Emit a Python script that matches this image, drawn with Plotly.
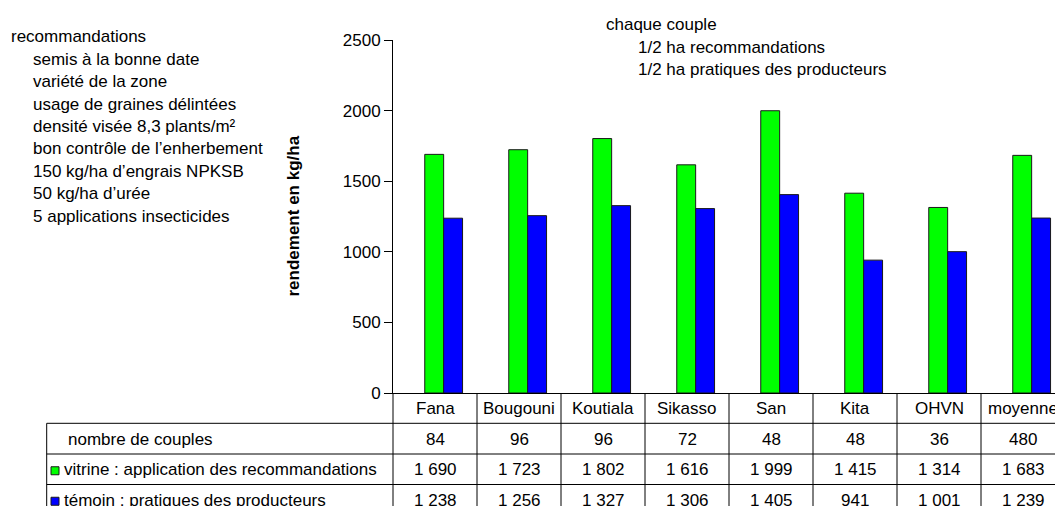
import plotly.graph_objects as go

# ---- data -------------------------------------------------------------
sites = ["Fana", "Bougouni", "Koutiala", "Sikasso", "San", "Kita", "OHVN", "moyenne"]
nb_couples = [84, 96, 96, 72, 48, 48, 36, 480]
vitrine = [1690, 1723, 1802, 1616, 1999, 1415, 1314, 1683]
temoin = [1238, 1256, 1327, 1306, 1405, 941, 1001, 1239]
y_ticks = [0, 500, 1000, 1500, 2000, 2500]

row_labels = [
    "nombre de couples",
    "vitrine : application des recommandations",
    "témoin : pratiques des producteurs",
]
reco_title = "recommandations"
reco_lines = [
    "semis à la bonne date",
    "variété de la zone",
    "usage de graines délintées",
    "densité visée 8,3 plants/m²",
    "bon contrôle de l’enherbement",
    "150 kg/ha d’engrais NPKSB",
    "50 kg/ha d’urée",
    "5 applications insecticides",
]
couple_title = "chaque couple"
couple_lines = ["1/2 ha recommandations", "1/2 ha pratiques des producteurs"]

# ---- styling / geometry ------------------------------------------------
GREEN = "#00FF00"
BLUE = "#0000FF"
EDGE = "#1a1a1a"
FONT = "Liberation Sans, Arial, sans-serif"
FS = 17

W, H = 1055, 506
L, T, B = 393, 40, 113
PW = W - L
PH = H - T - B
CAT_PX = 84.0  # width of one category on screen


def fx(px):
    """pixel x -> paper x"""
    return (px - L) / PW


def fy(py):
    """pixel y -> paper y"""
    return (H - B - py) / PH


def fmt(v):
    return f"{v:,}".replace(",", " ")


fig = go.Figure()

BAR_W = 0.225
fig.add_trace(go.Bar(
    x=sites, y=vitrine, name=row_labels[1],
    width=BAR_W, offset=-0.122,
    marker=dict(color=GREEN, line=dict(color=EDGE, width=1)),
))
fig.add_trace(go.Bar(
    x=sites, y=temoin, name=row_labels[2],
    width=BAR_W, offset=0.103,
    marker=dict(color=BLUE, line=dict(color=EDGE, width=1)),
))

shapes = []
annotations = []

# ---- data table under the axis -------------------------------------------
axis_y = H - B
row_edges = [axis_y, 423.3, 454.0, 484.5, 515.0]
table_left = 46.7
line = dict(color="black", width=1)

# horizontal rules of the table body
for yy in row_edges[1:4]:
    shapes.append(dict(type="line", xref="paper", yref="paper",
                       x0=fx(table_left), x1=1.05, y0=fy(yy), y1=fy(yy), line=line))
# outer left edges
shapes.append(dict(type="line", xref="paper", yref="paper",
                   x0=fx(table_left), x1=fx(table_left), y0=fy(row_edges[1]), y1=fy(530),
                   line=line))
shapes.append(dict(type="line", xref="paper", yref="paper",
                   x0=0, x1=0, y0=0, y1=fy(530), line=line))
# column separators between sites
for i in range(len(sites)):
    shapes.append(dict(type="line", xref="x", yref="paper",
                       x0=i + 0.5, x1=i + 0.5, y0=0, y1=fy(530), line=line))

row_centers = [(row_edges[k] + row_edges[k + 1]) / 2 for k in range(4)]
text_font = dict(family=FONT, size=FS, color="black")

table_rows = [
    sites,
    [str(v) for v in nb_couples],
    [fmt(v) for v in vitrine],
    [fmt(v) for v in temoin],
]
for r, values in enumerate(table_rows):
    for i, txt in enumerate(values):
        annotations.append(dict(
            xref="x", yref="paper", x=sites[i], y=fy(row_centers[r] + 0.5),
            text=txt, showarrow=False, xanchor="center", yanchor="middle",
            font=text_font,
        ))

# row headers, with legend keys for the two bar series
label_x = [66.0, 62.0, 62.0]
for k, lab in enumerate(row_labels):
    annotations.append(dict(
        xref="paper", yref="paper", x=fx(label_x[k]), y=fy(row_centers[k + 1] + 0.5),
        text=lab, showarrow=False, xanchor="left", yanchor="middle",
        font=text_font,
    ))
for k, col in ((1, GREEN), (2, BLUE)):
    cy = row_centers[k + 1] + 1.5
    shapes.append(dict(type="rect", xref="paper", yref="paper",
                       x0=fx(51), x1=fx(59), y0=fy(cy - 4), y1=fy(cy + 4),
                       fillcolor=col, line=dict(color=EDGE, width=1)))

# ---- free text blocks ----------------------------------------------------
annotations.append(dict(
    xref="paper", yref="paper", x=fx(9), y=fy(36.5), text=reco_title,
    showarrow=False, xanchor="left", yanchor="middle", font=text_font,
))
for j, txt in enumerate(reco_lines):
    annotations.append(dict(
        xref="paper", yref="paper", x=fx(30.5), y=fy(59.2 + 22.4 * j), text=txt,
        showarrow=False, xanchor="left", yanchor="middle", font=text_font,
    ))

annotations.append(dict(
    xref="paper", yref="paper", x=fx(604), y=fy(24), text=couple_title,
    showarrow=False, xanchor="left", yanchor="middle", font=text_font,
))
for j, txt in enumerate(couple_lines):
    annotations.append(dict(
        xref="paper", yref="paper", x=fx(636), y=fy(47 + 23 * j), text=txt,
        showarrow=False, xanchor="left", yanchor="middle", font=text_font,
    ))

# y-axis title
annotations.append(dict(
    xref="paper", yref="paper", x=fx(293), y=0.5, text="<b>rendement en kg/ha</b>",
    textangle=-90, showarrow=False, xanchor="center", yanchor="middle",
    font=dict(family=FONT, size=FS, color="black"),
))

fig.update_layout(
    width=W, height=H,
    margin=dict(l=L, r=0, t=T, b=B, pad=0),
    paper_bgcolor="white", plot_bgcolor="white",
    showlegend=False, barmode="overlay",
    font=text_font,
    shapes=shapes, annotations=annotations,
    xaxis=dict(
        type="category", range=[-0.5, -0.5 + PW / CAT_PX],
        showticklabels=False, ticks="", showgrid=False, zeroline=False,
        showline=True, linecolor="black", linewidth=1,
    ),
    yaxis=dict(
        range=[0, 2500], tickvals=y_ticks, ticktext=[str(v) for v in y_ticks],
        ticks="outside", ticklen=8, tickcolor="black", tickwidth=1,
        showgrid=False, zeroline=False,
        showline=True, linecolor="black", linewidth=1,
        tickfont=dict(family=FONT, size=FS, color="black"),
    ),
)

fig.write_html("out.html")
